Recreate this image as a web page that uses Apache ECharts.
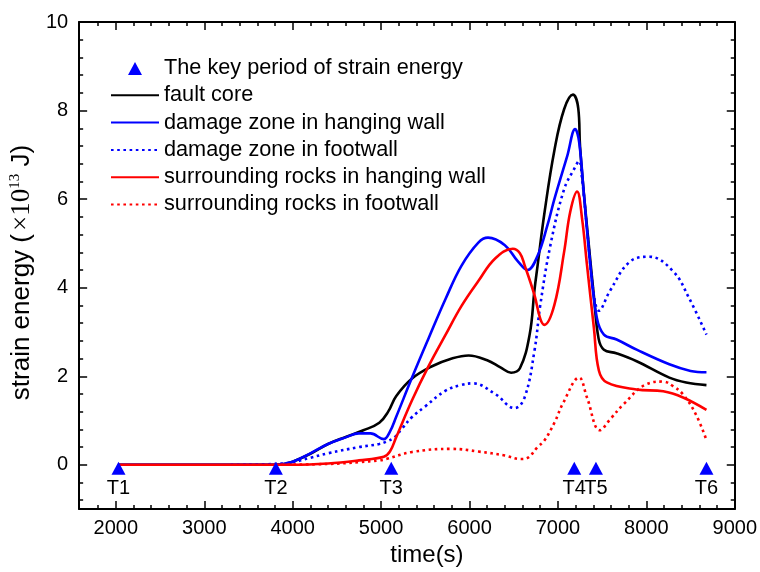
<!DOCTYPE html>
<html>
<head>
<meta charset="utf-8">
<script src="https://cdn.jsdelivr.net/npm/echarts@6/dist/echarts.min.js"></script>
<style>
  html, body { margin: 0; padding: 0; background: #fff; }
  #chart { width: 760px; height: 572px; }
</style>
</head>
<body>
<div id="chart"></div>
<script>
// data: [time (s), strain energy (x10^13 J)]
var faultCore = [
  [2030,0],[3000,0],[3700,0],[3900,0.02],[4000,0.07],[4200,0.25],[4400,0.47],[4600,0.63],
  [4800,0.78],[4980,0.95],[5080,1.2],[5170,1.55],[5350,1.95],[5570,2.22],[5800,2.4],
  [5990,2.47],[6200,2.36],[6350,2.2],[6470,2.08],[6570,2.18],[6680,2.94],[6735,3.95],
  [6770,4.5],[6850,5.72],[6960,7.1],[7070,8.03],[7170,8.36],[7230,8.05],[7250,7.2],
  [7295,6.1],[7350,4.95],[7405,3.85],[7460,2.85],[7520,2.6],[7660,2.52],[7890,2.34],
  [8260,1.97],[8450,1.86],[8680,1.8]
];
var damageHanging = [
  [2030,0],[3000,0],[3700,0],[3900,0.02],[4000,0.07],[4200,0.26],[4400,0.47],[4600,0.62],
  [4750,0.71],[4880,0.71],[5030,0.58],[5100,0.75],[5170,1.08],[5350,1.97],[5540,2.87],
  [5730,3.75],[5910,4.5],[6100,5.02],[6210,5.13],[6400,4.96],[6545,4.6],[6657,4.4],
  [6770,4.72],[6880,5.4],[6960,6.0],[7105,6.97],[7195,7.58],[7240,7.29],[7295,6.08],
  [7362,4.6],[7440,3.32],[7520,2.94],[7664,2.83],[7890,2.6],[8260,2.27],[8500,2.12],
  [8680,2.09]
];
var damageFoot = [
  [3300,0],[3800,0.02],[4000,0.06],[4200,0.16],[4400,0.26],[4750,0.4],[4980,0.47],
  [5056,0.52],[5150,0.62],[5238,0.82],[5351,1.08],[5500,1.32],[5725,1.67],[5900,1.8],
  [6040,1.84],[6290,1.6],[6510,1.28],[6623,1.52],[6735,2.58],[6800,3.6],[6914,4.95],
  [7071,6.23],[7183,6.68],[7239,6.86],[7273,6.46],[7329,5.34],[7407,3.83],[7463,3.48],
  [7586,3.92],[7810,4.58],[8034,4.7],[8303,4.37],[8482,3.77],[8680,2.94]
];
var rockHanging = [
  [2030,0],[3000,0],[4000,0],[4400,0.03],[4750,0.1],[5030,0.18],[5100,0.3],[5170,0.62],
  [5350,1.46],[5540,2.24],[5730,2.94],[5910,3.59],[6100,4.15],[6290,4.66],[6490,4.88],
  [6570,4.78],[6623,4.51],[6735,3.83],[6800,3.3],[6847,3.16],[6960,3.61],[7071,4.82],
  [7140,5.72],[7217,6.17],[7273,5.56],[7329,4.51],[7407,3.09],[7463,2.13],[7553,1.86],
  [7888,1.7],[8191,1.66],[8415,1.52],[8680,1.24]
];
var rockFoot = [
  [3800,0],[4400,0.02],[4750,0.06],[4980,0.1],[5060,0.13],[5350,0.29],[5800,0.36],
  [6100,0.3],[6400,0.21],[6580,0.13],[6650,0.15],[6770,0.4],[6847,0.55],[6960,0.95],
  [7060,1.4],[7239,1.97],[7329,1.52],[7474,0.78],[7600,1.05],[7743,1.37],
  [8000,1.82],[8191,1.88],[8300,1.78],[8415,1.59],[8560,1.14],[8680,0.56]
];
var keyTimes = [2030, 3810, 5115, 7185, 7430, 8680];
var keyLabels = ['T1', 'T2', 'T3', 'T4', 'T5', 'T6'];
var keyLevel = -0.08;

var xMajor = [2000, 3000, 4000, 5000, 6000, 7000, 8000, 9000];
var xMinor = [1800, 2200, 2400, 2600, 2800, 3200, 3400, 3600, 3800, 4200, 4400, 4600, 4800,
  5200, 5400, 5600, 5800, 6200, 6400, 6600, 6800, 7200, 7400, 7600, 7800, 8200, 8400, 8600, 8800];
var yMajor = [0, 2, 4, 6, 8, 10];
var yMinor = [-0.8, -0.4, 0.4, 0.8, 1.2, 1.6, 2.4, 2.8, 3.2, 3.6, 4.4, 4.8, 5.2, 5.6,
  6.4, 6.8, 7.2, 7.6, 8.4, 8.8, 9.2, 9.6];

var SANS = '"Liberation Sans", Arial, sans-serif';
var SERIF = '"Liberation Serif", "Times New Roman", serif';
// small triangle padded out to the 48x14 legend icon box so it isn't stretched
var TRI_ICON = 'path://M0,0L0,0M48,14L48,14M17,14L24,1L31,14Z';

function xAx(pos, ticks, len, main) {
  return {
    type: 'value', position: pos, min: 1585, max: 9000,
    axisLine: { show: main, onZero: false, lineStyle: { color: '#000', width: 2 } },
    axisTick: { show: true, inside: true, length: len, customValues: ticks,
      lineStyle: { color: '#000', width: 1.5 } },
    axisLabel: { show: false },
    splitLine: { show: false }
  };
}
function yAx(pos, ticks, len, main) {
  return {
    type: 'value', position: pos, min: -1, max: 10,
    axisLine: { show: main, onZero: false, lineStyle: { color: '#000', width: 2 } },
    axisTick: { show: true, inside: true, length: len, customValues: ticks,
      lineStyle: { color: '#000', width: 1.5 } },
    axisLabel: { show: false },
    splitLine: { show: false }
  };
}

var xBottom = xAx('bottom', xMajor, 8, true);
xBottom.axisLabel = { show: true, customValues: xMajor, fontSize: 20, color: '#000',
  fontFamily: SANS, margin: 9, formatter: function (v) { return String(v); } };
xBottom.name = 'time(s)';
xBottom.nameLocation = 'middle';
xBottom.nameGap = 24;
xBottom.nameTextStyle = { fontSize: 24, color: '#000', fontFamily: SANS, padding: [0, 0, 0, 40] };

var yLeft = yAx('left', yMajor, 8, true);
yLeft.axisLabel = { show: true, customValues: yMajor, fontSize: 20, color: '#000',
  fontFamily: SANS, margin: 11 };
yLeft.name = 'strain energy ({t|×10}{s|13}{j| J})';
yLeft.nameLocation = 'middle';
yLeft.nameGap = 32;
yLeft.nameRotate = 90;
yLeft.nameTextStyle = {
  fontSize: 26, color: '#000', fontFamily: SANS, padding: [0, 14, 0, 0],
  rich: {
    t: { fontSize: 27, fontFamily: SERIF, color: '#000', padding: [0, 0, 0, 3] },
    s: { fontSize: 15, fontFamily: SERIF, color: '#000', verticalAlign: 'top' },
    j: { fontSize: 26, fontFamily: SANS, color: '#000' }
  }
};

function lineSeries(name, data, color, dotted) {
  return {
    name: name, type: 'line', data: data, smooth: 0.4, symbol: 'none',
    xAxisIndex: 0, yAxisIndex: 0,
    lineStyle: { color: color, width: 2.6, type: dotted ? [2.6, 3.6] : 'solid' },
    itemStyle: { color: color }
  };
}

function lineLegend(name) {
  return { name: name, itemStyle: { opacity: 0 } };
}

var chart = echarts.init(document.getElementById('chart'), null, { renderer: 'canvas' });
chart.setOption({
  backgroundColor: '#fff',
  animation: false,
  grid: { left: 77, right: 20, top: 22, bottom: 59, containLabel: false },
  xAxis: [xBottom, xAx('bottom', xMinor, 4, false), xAx('top', xMajor, 8, true), xAx('top', xMinor, 4, false)],
  yAxis: [yLeft, yAx('left', yMinor, 4, false), yAx('right', yMajor, 8, true), yAx('right', yMinor, 4, false)],
  legend: {
    orient: 'vertical', left: 110, top: 57, padding: 0,
    itemWidth: 48, itemHeight: 14, itemGap: 5.3,
    textStyle: { fontSize: 21.7, color: '#000', fontFamily: SANS },
    data: [
      { name: 'The key period of strain energy', icon: TRI_ICON, itemStyle: { opacity: 1 } },
      lineLegend('fault core'),
      lineLegend('damage zone in hanging wall'),
      lineLegend('damage zone in footwall'),
      lineLegend('surrounding rocks in hanging wall'),
      lineLegend('surrounding rocks in footwall')
    ]
  },
  series: [
    {
      name: 'The key period of strain energy', type: 'scatter', z: 5,
      symbol: 'triangle', symbolSize: [14, 13],
      itemStyle: { color: '#0000ff', opacity: 1 },
      data: keyTimes.map(function (t, i) { return { name: keyLabels[i], value: [t, keyLevel] }; }),
      label: { show: true, position: 'bottom', distance: 4, formatter: '{b}',
        fontSize: 20, color: '#000', fontFamily: SANS }
    },
    lineSeries('fault core', faultCore, '#000000', false),
    lineSeries('damage zone in hanging wall', damageHanging, '#0000ff', false),
    lineSeries('damage zone in footwall', damageFoot, '#0000ff', true),
    lineSeries('surrounding rocks in hanging wall', rockHanging, '#ff0000', false),
    lineSeries('surrounding rocks in footwall', rockFoot, '#ff0000', true)
  ]
});
</script>
</body>
</html>
